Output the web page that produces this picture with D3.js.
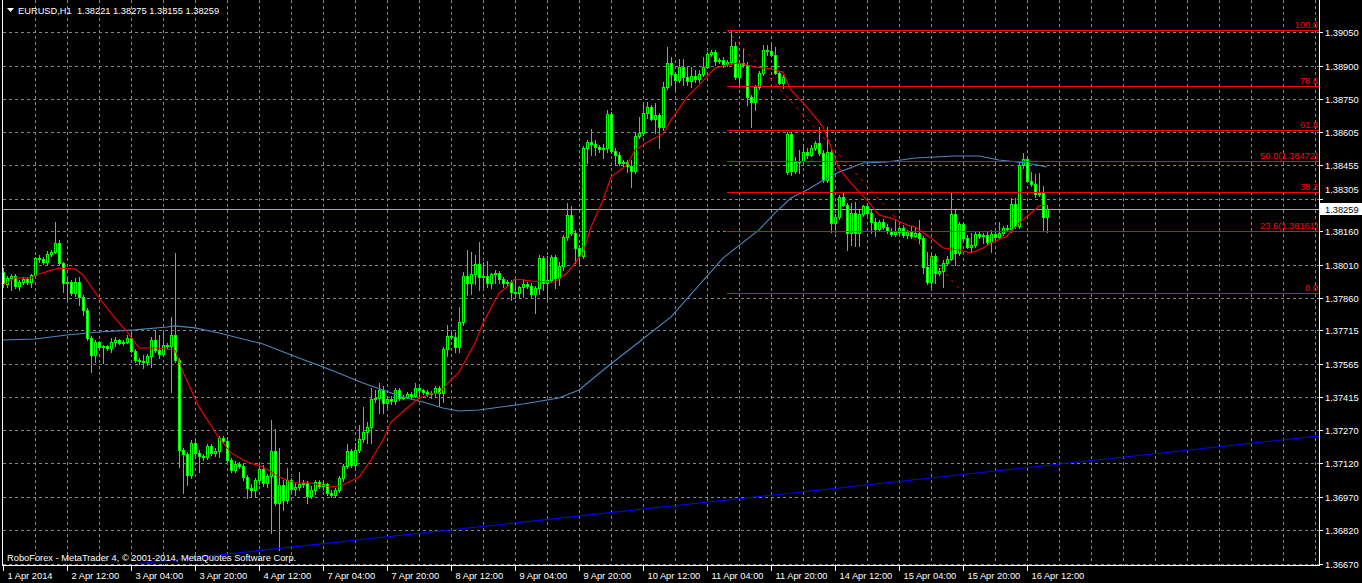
<!DOCTYPE html>
<html>
<head>
<meta charset="utf-8">
<script src="https://cdn.jsdelivr.net/npm/d3@7"></script>
<style>
html, body { margin: 0; padding: 0; background: #000; }
svg { display: block; }
text { font-family: "Liberation Sans", Arial, sans-serif; font-size: 9.3px; }
</style>
</head>
<body>
<svg id="chart" width="1362" height="583"></svg>
<script>
// EURUSD H1 bars, 1 Apr 20:00 .. 16 Apr 17:00
const opens = [
  1.37976,1.37923,1.37949,1.37958,1.37914,1.37932,1.37945,1.37932,1.37963,1.38039,
  1.38035,1.38021,1.38057,1.38066,1.38107,1.38017,1.37927,1.37932,1.37883,1.37932,
  1.37865,1.37806,1.37681,1.37605,1.37663,1.37641,1.37645,1.37636,1.37663,1.37672,
  1.37659,1.37663,1.37681,1.37623,1.37582,1.37578,1.37573,1.37600,1.37672,1.37627,
  1.37609,1.37650,1.37645,1.37695,1.37582,1.37179,1.37161,1.37067,1.37210,1.37166,
  1.37152,1.37148,1.37197,1.37166,1.37175,1.37233,1.37219,1.37134,1.37089,1.37116,
  1.37107,1.37058,1.37009,1.37000,1.37045,1.37094,1.37031,1.37063,1.37175,1.36942,
  1.37022,1.36955,1.37045,1.37004,1.37013,1.37027,1.37031,1.36973,1.37000,1.37036,
  1.37018,1.37027,1.36986,1.36978,1.37000,1.37054,1.37107,1.37175,1.37112,1.37179,
  1.37228,1.37260,1.37282,1.37408,1.37412,1.37448,1.37390,1.37408,1.37399,1.37448,
  1.37412,1.37416,1.37430,1.37421,1.37457,1.37448,1.37439,1.37430,1.37434,1.37457,
  1.37434,1.37632,1.37690,1.37686,1.37641,1.37752,1.37958,1.37927,1.37967,1.38012,
  1.37954,1.37958,1.37927,1.37967,1.37972,1.37945,1.37927,1.37932,1.37887,1.37883,
  1.37910,1.37923,1.37914,1.37878,1.37905,1.38039,1.37927,1.37941,1.38044,1.37949,
  1.38003,1.38133,1.38232,1.38151,1.38084,1.38048,1.38532,1.38559,1.38550,1.38536,
  1.38527,1.38532,1.38684,1.38518,1.38501,1.38465,1.38469,1.38451,1.38429,1.38586,
  1.38599,1.38689,1.38716,1.38662,1.38680,1.38626,1.38805,1.38913,1.38863,1.38837,
  1.38895,1.38850,1.38832,1.38855,1.38841,1.38863,1.38895,1.38953,1.38962,1.38922,
  1.38926,1.38908,1.38917,1.38989,1.38850,1.38913,1.38904,1.38760,1.38738,1.38805,
  1.38868,1.38971,1.38966,1.38949,1.38868,1.38823,1.38424,1.38595,1.38429,1.38469,
  1.38474,1.38514,1.38501,1.38532,1.38554,1.38510,1.38389,1.38514,1.38196,1.38223,
  1.38312,1.38277,1.38151,1.38241,1.38151,1.38236,1.38272,1.38241,1.38200,1.38169,
  1.38200,1.38178,1.38160,1.38147,1.38156,1.38173,1.38142,1.38156,1.38138,1.38151,
  1.38129,1.37999,1.37932,1.38048,1.37972,1.37981,1.38017,1.38035,1.38236,1.38062,
  1.38191,1.38129,1.38089,1.38098,1.38147,1.38138,1.38142,1.38111,1.38147,1.38133,
  1.38151,1.38173,1.38169,1.38281,1.38182,1.38456,1.38483,1.38384,1.38371,1.38326,
  1.38330,1.38221
];
const highs = [
  1.37994,1.37958,1.37967,1.37967,1.37941,1.37954,1.37954,1.37967,1.38044,1.38053,
  1.38044,1.38071,1.38075,1.38200,1.38120,1.38021,1.37954,1.37941,1.37949,1.37954,
  1.37874,1.37815,1.37690,1.37672,1.37668,1.37650,1.37650,1.37681,1.37686,1.37677,
  1.37672,1.37695,1.37704,1.37632,1.37591,1.37605,1.37609,1.37686,1.37717,1.37695,
  1.37708,1.37659,1.37775,1.38062,1.37591,1.37188,1.37170,1.37224,1.37219,1.37179,
  1.37161,1.37206,1.37206,1.37188,1.37242,1.37242,1.37237,1.37143,1.37130,1.37125,
  1.37121,1.37067,1.37027,1.37054,1.37107,1.37112,1.37071,1.37313,1.37273,1.37188,
  1.37045,1.37098,1.37054,1.37031,1.37080,1.37045,1.37040,1.37018,1.37045,1.37045,
  1.37045,1.37031,1.37000,1.37009,1.37063,1.37116,1.37206,1.37184,1.37210,1.37291,
  1.37372,1.37305,1.37457,1.37448,1.37479,1.37466,1.37421,1.37421,1.37457,1.37457,
  1.37425,1.37439,1.37439,1.37479,1.37466,1.37452,1.37448,1.37443,1.37466,1.37466,
  1.37641,1.37739,1.37704,1.37708,1.37820,1.37976,1.38075,1.38066,1.38053,1.38111,
  1.38021,1.38026,1.37972,1.37985,1.37981,1.37954,1.37941,1.37941,1.37949,1.37914,
  1.37945,1.37932,1.37927,1.37914,1.38053,1.38048,1.38048,1.38053,1.38053,1.38021,
  1.38142,1.38286,1.38272,1.38165,1.38098,1.38541,1.38568,1.38617,1.38568,1.38545,
  1.38550,1.38702,1.38693,1.38532,1.38514,1.38478,1.38478,1.38478,1.38604,1.38671,
  1.38738,1.38738,1.38725,1.38734,1.38689,1.38828,1.38984,1.38940,1.38872,1.38931,
  1.38931,1.38895,1.38895,1.38881,1.38881,1.38940,1.38962,1.38971,1.38971,1.38935,
  1.38940,1.38926,1.39061,1.39007,1.38926,1.38980,1.38917,1.38769,1.38814,1.38877,
  1.38993,1.38993,1.38998,1.38984,1.38877,1.38859,1.38604,1.38604,1.38492,1.38523,
  1.38545,1.38532,1.38545,1.38563,1.38626,1.38523,1.38626,1.38523,1.38236,1.38321,
  1.38330,1.38286,1.38286,1.38290,1.38254,1.38277,1.38286,1.38254,1.38218,1.38209,
  1.38214,1.38191,1.38173,1.38209,1.38182,1.38187,1.38165,1.38182,1.38178,1.38209,
  1.38138,1.38066,1.38057,1.38057,1.37994,1.38030,1.38048,1.38330,1.38254,1.38200,
  1.38200,1.38142,1.38151,1.38156,1.38156,1.38151,1.38156,1.38165,1.38156,1.38200,
  1.38182,1.38187,1.38308,1.38308,1.38465,1.38510,1.38496,1.38424,1.38415,1.38420,
  1.38362,1.38275
];
const lows = [
  1.37910,1.37910,1.37896,1.37905,1.37896,1.37923,1.37923,1.37910,1.37958,1.38021,
  1.38012,1.38012,1.38048,1.38062,1.38012,1.37887,1.37851,1.37874,1.37869,1.37829,
  1.37784,1.37672,1.37528,1.37573,1.37632,1.37569,1.37627,1.37618,1.37645,1.37654,
  1.37650,1.37659,1.37618,1.37573,1.37564,1.37546,1.37560,1.37551,1.37618,1.37591,
  1.37605,1.37636,1.37439,1.37573,1.37103,1.36986,1.37022,1.37054,1.37143,1.37080,
  1.37134,1.37139,1.37157,1.37152,1.37148,1.37210,1.37125,1.37080,1.37080,1.37098,
  1.37045,1.36964,1.36969,1.36969,1.37027,1.37018,1.37013,1.36807,1.36933,1.36731,
  1.36910,1.36942,1.36991,1.36978,1.37000,1.37013,1.36942,1.36964,1.36982,1.37009,
  1.37000,1.36978,1.36969,1.36969,1.36991,1.37040,1.37098,1.37103,1.37103,1.37170,
  1.37215,1.37210,1.37210,1.37394,1.37345,1.37345,1.37372,1.37385,1.37385,1.37403,
  1.37408,1.37412,1.37412,1.37416,1.37425,1.37430,1.37421,1.37412,1.37416,1.37376,
  1.37394,1.37600,1.37677,1.37618,1.37618,1.37739,1.37874,1.37878,1.37923,1.37896,
  1.37910,1.37910,1.37905,1.37927,1.37927,1.37910,1.37918,1.37851,1.37865,1.37865,
  1.37865,1.37905,1.37865,1.37793,1.37878,1.37896,1.37851,1.37932,1.37905,1.37918,
  1.37985,1.38120,1.38142,1.38017,1.38017,1.38039,1.38465,1.38501,1.38501,1.38514,
  1.38487,1.38514,1.38510,1.38456,1.38456,1.38451,1.38424,1.38357,1.38420,1.38577,
  1.38590,1.38666,1.38657,1.38599,1.38532,1.38613,1.38796,1.38814,1.38792,1.38828,
  1.38814,1.38814,1.38805,1.38828,1.38828,1.38855,1.38890,1.38944,1.38904,1.38913,
  1.38895,1.38899,1.38908,1.38841,1.38805,1.38895,1.38725,1.38626,1.38702,1.38796,
  1.38859,1.38949,1.38944,1.38863,1.38819,1.38801,1.38415,1.38411,1.38420,1.38420,
  1.38465,1.38487,1.38496,1.38523,1.38501,1.38380,1.38380,1.38156,1.38156,1.38214,
  1.38272,1.38075,1.38098,1.38093,1.38093,1.38227,1.38232,1.38151,1.38138,1.38160,
  1.38169,1.38151,1.38138,1.38138,1.38147,1.38133,1.38129,1.38129,1.38133,1.38106,
  1.37972,1.37923,1.37910,1.37927,1.37963,1.37910,1.38008,1.38030,1.38008,1.38053,
  1.38120,1.38084,1.38066,1.38089,1.38129,1.38106,1.38102,1.38066,1.38120,1.38129,
  1.38142,1.38160,1.38156,1.38173,1.38173,1.38442,1.38380,1.38362,1.38312,1.38317,
  1.38165,1.38155
];
const closes = [
  1.37923,1.37949,1.37958,1.37914,1.37932,1.37945,1.37932,1.37963,1.38039,1.38035,
  1.38021,1.38057,1.38066,1.38107,1.38017,1.37927,1.37932,1.37883,1.37932,1.37865,
  1.37806,1.37681,1.37605,1.37663,1.37641,1.37645,1.37636,1.37663,1.37672,1.37659,
  1.37663,1.37681,1.37623,1.37582,1.37578,1.37573,1.37600,1.37672,1.37627,1.37609,
  1.37650,1.37645,1.37695,1.37582,1.37179,1.37161,1.37067,1.37210,1.37166,1.37152,
  1.37148,1.37197,1.37166,1.37175,1.37233,1.37219,1.37134,1.37089,1.37116,1.37107,
  1.37058,1.37009,1.37000,1.37045,1.37094,1.37031,1.37063,1.37175,1.36942,1.37022,
  1.36955,1.37045,1.37004,1.37013,1.37027,1.37031,1.36973,1.37000,1.37036,1.37018,
  1.37027,1.36986,1.36978,1.37000,1.37054,1.37107,1.37175,1.37112,1.37179,1.37228,
  1.37260,1.37282,1.37408,1.37412,1.37448,1.37390,1.37408,1.37399,1.37448,1.37412,
  1.37416,1.37430,1.37421,1.37457,1.37448,1.37439,1.37430,1.37434,1.37457,1.37434,
  1.37632,1.37690,1.37686,1.37641,1.37752,1.37958,1.37927,1.37967,1.38012,1.37954,
  1.37958,1.37927,1.37967,1.37972,1.37945,1.37927,1.37932,1.37887,1.37883,1.37910,
  1.37923,1.37914,1.37878,1.37905,1.38039,1.37927,1.37941,1.38044,1.37949,1.38003,
  1.38133,1.38232,1.38151,1.38084,1.38048,1.38532,1.38559,1.38550,1.38536,1.38527,
  1.38532,1.38684,1.38518,1.38501,1.38465,1.38469,1.38451,1.38429,1.38586,1.38599,
  1.38689,1.38716,1.38662,1.38680,1.38626,1.38805,1.38913,1.38863,1.38837,1.38895,
  1.38850,1.38832,1.38855,1.38841,1.38863,1.38895,1.38953,1.38962,1.38922,1.38926,
  1.38908,1.38917,1.38989,1.38850,1.38913,1.38904,1.38760,1.38738,1.38805,1.38868,
  1.38971,1.38966,1.38949,1.38868,1.38823,1.38850,1.38595,1.38429,1.38469,1.38474,
  1.38514,1.38501,1.38532,1.38554,1.38510,1.38389,1.38514,1.38196,1.38223,1.38312,
  1.38277,1.38151,1.38241,1.38151,1.38236,1.38272,1.38241,1.38200,1.38169,1.38200,
  1.38178,1.38160,1.38147,1.38156,1.38173,1.38142,1.38156,1.38138,1.38151,1.38129,
  1.37999,1.37932,1.38048,1.37972,1.37981,1.38017,1.38035,1.38236,1.38062,1.38191,
  1.38129,1.38089,1.38098,1.38147,1.38138,1.38142,1.38111,1.38147,1.38133,1.38151,
  1.38173,1.38169,1.38281,1.38182,1.38456,1.38483,1.38384,1.38371,1.38326,1.38330,
  1.38223,1.38259
];

// moving averages: [bar, price]
const fastMA = [
  [0,1.37918],[3,1.37950],[7,1.37950],[9,1.37968],[14,1.37994],[18,1.37990],[20,1.37963],
  [24,1.37860],[28,1.37770],[31,1.37708],[34,1.37636],[38,1.37636],[43,1.37627],[45,1.37528],
  [49,1.37372],[54,1.37233],[57,1.37166],[61,1.37125],[65,1.37103],[69,1.37058],[73,1.37031],
  [77,1.37031],[82,1.37013],[85,1.37022],[89,1.37058],[92,1.37134],[95,1.37224],[97,1.37304],
  [101,1.37367],[104,1.37412],[107,1.37430],[109,1.37434],[111,1.37475],[114,1.37528],
  [118,1.37658],[120,1.37748],[124,1.37882],[126,1.37909],[128,1.37945],[132,1.37936],
  [138,1.37932],[141,1.37972],[143,1.38017],[145,1.38062],[147,1.38178],[150,1.38299],
  [152,1.38402],[156,1.38456],[158,1.38523],[162,1.38568],[165,1.38595],[167,1.38657],
  [171,1.38760],[174,1.38814],[178,1.38890],[181,1.38904],[184,1.38913],[188,1.38895],
  [192,1.38886],[195,1.38872],[197,1.38792],[200,1.38734],[202,1.38693],[205,1.38626],
  [207,1.38536],[209,1.38442],[212,1.38375],[216,1.38299],[219,1.38232],[222,1.38218],
  [226,1.38187],[228,1.38178],[232,1.38129],[235,1.38084],[239,1.38075],[242,1.38062],
  [245,1.38084],[247,1.38106],[251,1.38138],[254,1.38196],[257,1.38241],[259,1.38272],
  [261,1.38277]
];
const slowMA = [
  [0,1.37672],[8,1.37676],[16,1.37694],[24,1.37708],[33,1.37717],[41,1.37730],[43,1.37735],
  [48,1.37726],[54,1.37703],[59,1.37681],[65,1.37654],[74,1.37591],[82,1.37537],[90,1.37479],
  [95,1.37448],[100,1.37416],[105,1.37394],[110,1.37367],[114,1.37354],[119,1.37358],
  [130,1.37385],[139,1.37412],[144,1.37448],[151,1.37551],[159,1.37663],[167,1.37775],
  [180,1.38039],[189,1.38165],[193,1.38241],[197,1.38308],[201,1.38344],[206,1.38398],
  [209,1.38424],[215,1.38465],[221,1.38469],[228,1.38487],[238,1.38496],[244,1.38496],
  [249,1.38478],[256,1.38465],[261,1.38447]
];

const timeLabels = ["1 Apr 2014","2 Apr 12:00","3 Apr 04:00","3 Apr 20:00","4 Apr 12:00",
  "7 Apr 04:00","7 Apr 20:00","8 Apr 12:00","9 Apr 04:00","9 Apr 20:00","10 Apr 12:00",
  "11 Apr 04:00","11 Apr 20:00","14 Apr 12:00","15 Apr 04:00","15 Apr 20:00","16 Apr 12:00"];
const priceTicks = [1.39050,1.38900,1.38750,1.38605,1.38455,1.38305,1.38160,1.38010,
  1.37860,1.37715,1.37565,1.37415,1.37270,1.37120,1.36970,1.36820,1.36670];

// fibonacci retracement (bar of the high, bar where the diagonal ends)
const fibLevels = [0, 23.6, 38.2, 50.0, 61.8, 78.6, 100.0];
const fibWithPrice = [50.0, 23.6];
const fibHigh = 1.39061, fibLow = 1.37883;
const fibStartBar = 181, fibEndBar = 240;

// blue trend line [bar, price]
const trendLine = [[34, 1.36670], [329, 1.37242]];

const symbol = "EURUSD,H1";

const W = 1362, H = 583;
const plotRight = 1319, plotBottom = 565;
const svg = d3.select("#chart");

const x = d3.scaleLinear().domain([0, 329]).range([3, plotRight]);
const y = d3.scaleLinear().domain([1.36670, 1.39050]).range([563.6, 32.4]);
const px = v => Math.round(x(v)) + 0.5;
const py = v => Math.round(y(v)) + 0.5;

svg.append("rect").attr("width", W).attr("height", H).attr("fill", "#000");

svg.append("defs").append("clipPath").attr("id", "plot")
  .append("rect").attr("x", 3).attr("y", 0)
  .attr("width", plotRight - 3).attr("height", plotBottom);

// grid
const grid = svg.append("g")
  .attr("stroke", "#7b8795").attr("stroke-dasharray", "3,3")
  .attr("shape-rendering", "crispEdges");

grid.selectAll(".vg")
  .data(d3.range(8, 330, 8))
  .enter().append("line")
  .attr("x1", d => px(d)).attr("x2", d => px(d))
  .attr("y1", 0).attr("y2", plotBottom);

grid.selectAll(".hg")
  .data(priceTicks)
  .enter().append("line")
  .attr("x1", 3).attr("x2", plotRight)
  .attr("y1", d => py(d)).attr("y2", d => py(d));

// bid line
const last = closes.length - 1;
const bidY = py(closes[last]);
svg.append("line")
  .attr("x1", 3).attr("x2", plotRight)
  .attr("y1", bidY).attr("y2", bidY)
  .attr("stroke", "#a3acb5").attr("shape-rendering", "crispEdges");

const plot = svg.append("g").attr("clip-path", "url(#plot)");

// candles
const bars = plot.selectAll(".bar")
  .data(d3.range(opens.length))
  .enter().append("g")
  .attr("shape-rendering", "crispEdges");

bars.append("line")
  .attr("x1", i => px(i)).attr("x2", i => px(i))
  .attr("y1", i => Math.round(y(highs[i])))
  .attr("y2", i => Math.round(y(lows[i])) + 1)
  .attr("stroke", "#00ff00");

bars.append("rect")
  .attr("x", i => Math.round(x(i)) - 0.5)
  .attr("y", i => Math.round(y(Math.max(opens[i], closes[i]))) + 0.5)
  .attr("width", 2)
  .attr("height", i => Math.max(0, Math.round(y(Math.min(opens[i], closes[i]))) - Math.round(y(Math.max(opens[i], closes[i])))))
  .attr("fill", i => closes[i] >= opens[i] ? "#000" : "#fff")
  .attr("stroke", "#00ff00");

// moving averages
const maLine = d3.line().x(d => x(d[0])).y(d => y(d[1]));
plot.append("path").datum(slowMA)
  .attr("d", maLine).attr("fill", "none")
  .attr("stroke", "#4f86bd").attr("stroke-width", 1.1);
plot.append("path").datum(fastMA)
  .attr("d", maLine).attr("fill", "none")
  .attr("stroke", "#ff0000").attr("stroke-width", 1.1);

// fibonacci
const fibPrice = l => fibLow + (fibHigh - fibLow) * l / 100;
plot.append("line")
  .attr("x1", x(fibStartBar)).attr("y1", y(fibHigh))
  .attr("x2", x(fibEndBar)).attr("y2", y(fibLow))
  .attr("stroke", "#ff0000").attr("stroke-dasharray", "3,5");

const fib = svg.append("g");
fib.selectAll("line")
  .data(fibLevels)
  .enter().append("line")
  .attr("x1", Math.round(x(fibStartBar))).attr("x2", plotRight)
  .attr("y1", d => py(fibPrice(d))).attr("y2", d => py(fibPrice(d)))
  .attr("stroke", "#ff0000").attr("shape-rendering", "crispEdges");

fib.selectAll("text")
  .data(fibLevels)
  .enter().append("text")
  .attr("x", plotRight - 1)
  .attr("y", d => py(fibPrice(d)) - 2.5)
  .attr("text-anchor", "end")
  .attr("fill", "#ff0000")
  .text(d => d.toFixed(1) + (fibWithPrice.includes(d) ? "(" + fibPrice(d).toFixed(5) + ")" : ""));

// trend line
plot.append("line")
  .attr("x1", x(trendLine[0][0])).attr("y1", y(trendLine[0][1]))
  .attr("x2", x(trendLine[1][0])).attr("y2", y(trendLine[1][1]))
  .attr("stroke", "#0000ff").attr("stroke-width", 1.1);

// frame
const frame = svg.append("g").attr("stroke", "#fff").attr("shape-rendering", "crispEdges");
frame.append("line").attr("x1", 2.5).attr("x2", 2.5).attr("y1", 0).attr("y2", plotBottom + 1);
frame.append("line").attr("x1", plotRight + 0.5).attr("x2", plotRight + 0.5).attr("y1", 0).attr("y2", plotBottom + 1);
frame.append("line").attr("x1", 2).attr("x2", plotRight + 1).attr("y1", plotBottom + 0.5).attr("y2", plotBottom + 0.5);

// price axis
const priceAxis = svg.append("g");
const labelY = d => {
  const ty = py(d);
  return Math.abs(ty - bidY) < 12 ? bidY - 20 : ty;
};
priceAxis.selectAll("line")
  .data(priceTicks)
  .enter().append("line")
  .attr("x1", plotRight + 1).attr("x2", plotRight + 4)
  .attr("y1", d => py(d)).attr("y2", d => py(d))
  .attr("stroke", "#fff").attr("shape-rendering", "crispEdges");
priceAxis.selectAll("text")
  .data(priceTicks)
  .enter().append("text")
  .attr("x", plotRight + 6)
  .attr("y", labelY)
  .attr("dy", "0.35em")
  .attr("fill", "#fff")
  .text(d => d.toFixed(5));

// current price box
svg.append("rect")
  .attr("x", plotRight + 1).attr("y", bidY - 6.5)
  .attr("width", W - plotRight - 1).attr("height", 12)
  .attr("fill", "#fff");
svg.append("text")
  .attr("x", plotRight + 6).attr("y", bidY)
  .attr("dy", "0.35em").attr("fill", "#000")
  .text(closes[last].toFixed(5));

// time axis
const timeAxis = svg.append("g");
const tickBars = timeLabels.map((d, k) => k * 16);
timeAxis.selectAll("line")
  .data(tickBars)
  .enter().append("line")
  .attr("x1", d => px(d)).attr("x2", d => px(d))
  .attr("y1", plotBottom).attr("y2", plotBottom + 6)
  .attr("stroke", "#fff").attr("shape-rendering", "crispEdges");
timeAxis.selectAll("text")
  .data(timeLabels)
  .enter().append("text")
  .attr("x", (d, k) => px(tickBars[k]) + 4)
  .attr("y", 579)
  .attr("fill", "#fff")
  .text(d => d);

// header
svg.append("path").attr("d", "M7,8 L14,8 L10.5,12 Z").attr("fill", "#fff");
svg.append("text")
  .attr("x", 18).attr("y", 14)
  .attr("fill", "#fff")
  .style("white-space", "pre")
  .text(symbol + "  " + [opens[last], highs[last], lows[last], closes[last]].map(v => v.toFixed(5)).join(" "));

svg.append("text")
  .attr("x", 7).attr("y", 561)
  .attr("fill", "#fff")
  .text("RoboForex - MetaTrader 4, \u00a9 2001-2014, MetaQuotes Software Corp.");
</script>
</body>
</html>
